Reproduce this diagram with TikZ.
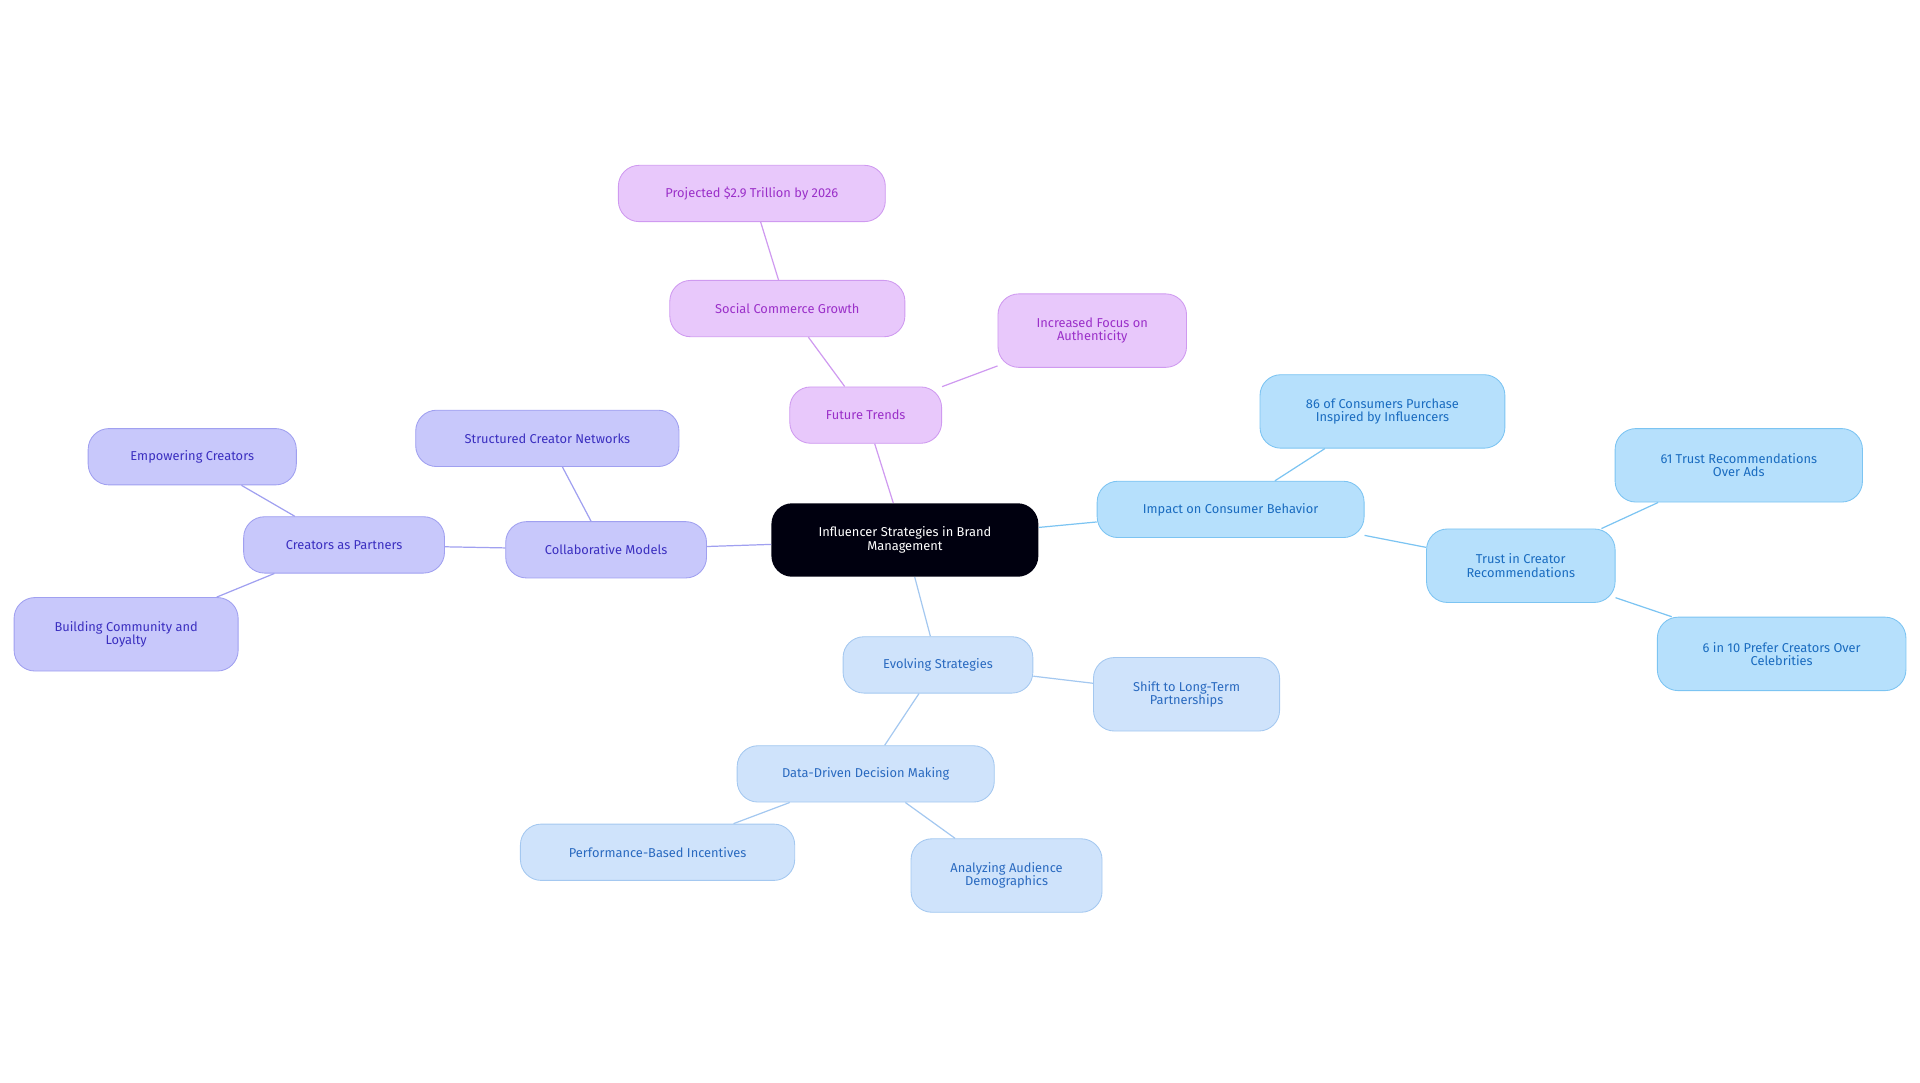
\documentclass[tikz,border=0pt]{standalone}
\usepackage{fontspec}
\setmainfont{Fira Sans}
\definecolor{pf}{HTML}{E8C8FB}\definecolor{pd}{HTML}{CF9AF0}\definecolor{pt}{HTML}{9B30C9}
\definecolor{vf}{HTML}{C8C8FB}\definecolor{vd}{HTML}{A0A0F0}\definecolor{vt}{HTML}{3B2FC0}
\definecolor{bf}{HTML}{B6E0FC}\definecolor{bd}{HTML}{7CC4F2}\definecolor{bt}{HTML}{1A6CC0}
\definecolor{lf}{HTML}{CFE3FB}\definecolor{ld}{HTML}{A4C8F0}\definecolor{lt}{HTML}{2A6AC0}
\tikzset{
 box/.style={rounded corners=17pt,align=center,inner sep=0pt,font=\fontsize{10.5pt}{11pt}\selectfont,line width=0.7pt},
 pbox/.style={box,fill=pf,draw=pd,text=pt},
 vbox/.style={box,fill=vf,draw=vd,text=vt},
 bbox/.style={box,fill=bf,draw=bd,text=bt},
 lbox/.style={box,fill=lf,draw=ld,text=lt},
 pl/.style={draw=pd,line width=1pt},
 vl/.style={draw=vd,line width=1pt},
 bl/.style={draw=bd,line width=1pt},
 ll/.style={draw=ld,line width=1pt},
}
\newcommand{\bx}[7]{\node[#1,minimum width=#5pt,minimum height=#6pt] (#2) at (#3pt,-#4pt) {#7};}
\begin{document}
\begin{tikzpicture}
\useasboundingbox (0,0) rectangle (1568pt,-884pt);
\bx{box,fill=black!90!blue!60!black,text=white,draw=none}{c}{739}{441}{218}{60}{Influencer Strategies in Brand\\Management}
\bx{pbox}{ft}{707}{339}{124}{46}{Future Trends}
\bx{pbox}{scg}{643}{252}{192}{46}{Social Commerce Growth}
\bx{pbox}{pj}{614}{158}{218}{46}{Projected \$2.9 Trillion by 2026}
\bx{pbox}{ifa}{892}{270}{154}{60}{Increased Focus on\\Authenticity}
\bx{vbox}{cm}{495}{449}{164}{46}{Collaborative Models}
\bx{vbox}{scn}{447}{358}{215}{46}{Structured Creator Networks}
\bx{vbox}{cap}{281}{445}{164}{46}{Creators as Partners}
\bx{vbox}{ec}{157}{373}{170}{46}{Empowering Creators}
\bx{vbox}{bcl}{103}{518}{183}{60}{Building Community and\\Loyalty}
\bx{bbox}{icb}{1005}{416}{218}{46}{Impact on Consumer Behavior}
\bx{bbox}{c86}{1129}{336}{200}{60}{86 of Consumers Purchase\\Inspired by Influencers}
\bx{bbox}{tcr}{1242}{462}{154}{60}{Trust in Creator\\Recommendations}
\bx{bbox}{t61}{1420}{380}{202}{60}{61 Trust Recommendations\\Over Ads}
\bx{bbox}{s6}{1455}{534}{203}{60}{6 in 10 Prefer Creators Over\\Celebrities}
\bx{lbox}{es}{766}{543}{155}{46}{Evolving Strategies}
\bx{lbox}{sl}{969}{567}{152}{60}{Shift to Long-Term\\Partnerships}
\bx{lbox}{dd}{707}{632}{210}{46}{Data-Driven Decision Making}
\bx{lbox}{pbi}{537}{696}{224}{46}{Performance-Based Incentives}
\bx{lbox}{aad}{822}{715}{156}{60}{Analyzing Audience\\Demographics}
\begin{scope}[on background layer/.style={}]
\end{scope}
\draw[pl] (c) -- (ft); \draw[pl] (ft) -- (scg); \draw[pl] (scg) -- (pj); \draw[pl] (ft) -- (ifa);
\draw[vl] (c) -- (cm); \draw[vl] (cm) -- (scn); \draw[vl] (cm) -- (cap); \draw[vl] (cap) -- (ec); \draw[vl] (cap) -- (bcl);
\draw[bl] (c) -- (icb); \draw[bl] (icb) -- (c86); \draw[bl] (icb) -- (tcr); \draw[bl] (tcr) -- (t61); \draw[bl] (tcr) -- (s6);
\draw[ll] (c) -- (es); \draw[ll] (es) -- (sl); \draw[ll] (es) -- (dd); \draw[ll] (dd) -- (pbi); \draw[ll] (dd) -- (aad);
\end{tikzpicture}
\end{document}
